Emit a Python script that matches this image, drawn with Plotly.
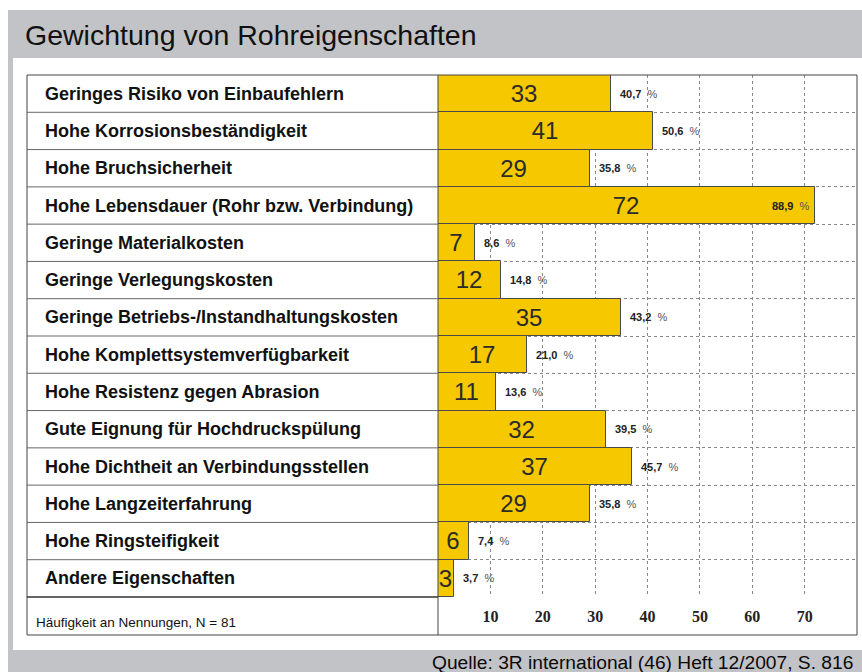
import plotly.graph_objects as go

categories = [
    "Geringes Risiko von Einbaufehlern",
    "Hohe Korrosionsbeständigkeit",
    "Hohe Bruchsicherheit",
    "Hohe Lebensdauer (Rohr bzw. Verbindung)",
    "Geringe Materialkosten",
    "Geringe Verlegungskosten",
    "Geringe Betriebs-/Instandhaltungskosten",
    "Hohe Komplettsystemverfügbarkeit",
    "Hohe Resistenz gegen Abrasion",
    "Gute Eignung für Hochdruckspülung",
    "Hohe Dichtheit an Verbindungsstellen",
    "Hohe Langzeiterfahrung",
    "Hohe Ringsteifigkeit",
    "Andere Eigenschaften",
]
counts = [33, 41, 29, 72, 7, 12, 35, 17, 11, 32, 37, 29, 6, 3]
percents = ["40,7", "50,6", "35,8", "88,9", "8,6", "14,8", "43,2", "21,0",
            "13,6", "39,5", "45,7", "35,8", "7,4", "3,7"]
x_ticks = [10, 20, 30, 40, 50, 60, 70]

W, H = 862, 672
def px(x): return x / W
def py(y): return 1 - y / H

TOP, ROWS_BOTTOM, TABLE_BOTTOM = 75, 597, 635
LEFT, SPLIT, RIGHT = 27, 438, 857
n = len(categories)
ypos = list(range(n))

fig = go.Figure()
fig.add_trace(go.Bar(
    x=counts, y=ypos, orientation="h", width=1,
    marker=dict(color="#f5c800", line=dict(color="#4a4a4a", width=1)),
    text=[str(c) for c in counts], textposition="inside",
    insidetextanchor="middle", textangle=0, constraintext="none",
    textfont=dict(family="Liberation Sans, Arial", size=24, color="#2b2b2b"),
    hoverinfo="skip", cliponaxis=False,
))

annotations = []
# percentage labels
for i, (c, p) in enumerate(zip(counts, percents)):
    inside = c > 60
    annotations.append(dict(
        x=c, y=i, xref="x", yref="y",
        text=f"<b>{p}</b>&nbsp;&nbsp;<span style='color:#555'>%</span>",
        showarrow=False, xanchor="right" if inside else "left",
        xshift=-3 if inside else 7,
        font=dict(family="Liberation Sans, Arial", size=11, color="#222"),
    ))
# category labels in the left column
for i, cat in enumerate(categories):
    annotations.append(dict(
        x=px(43), y=i, xref="paper", yref="y", text=f"<b>{cat}</b>",
        showarrow=False, xanchor="left", yanchor="middle",
        font=dict(family="Liberation Sans, Arial", size=18, color="#111"),
    ))
annotations += [
    dict(x=px(23), y=py(35), xref="paper", yref="paper",
         text="Gewichtung von Rohreigenschaften", showarrow=False,
         xanchor="left", yanchor="middle",
         font=dict(family="Liberation Sans, Arial", size=28.5, color="#111")),
    dict(x=px(34), y=py(622), xref="paper", yref="paper",
         text="Häufigkeit an Nennungen, N = 81", showarrow=False,
         xanchor="left", yanchor="middle",
         font=dict(family="Liberation Sans, Arial", size=13.5, color="#111")),
    dict(x=px(855), y=py(662), xref="paper", yref="paper",
         text="Quelle: 3R international (46) Heft 12/2007, S. 816", showarrow=False,
         xanchor="right", yanchor="middle",
         font=dict(family="Liberation Sans, Arial", size=19.2, color="#0a0a0a")),
]

shapes = [
    # outer gray frame & white panel
    dict(type="rect", xref="paper", yref="paper", x0=px(8), x1=1, y0=0, y1=py(10),
         fillcolor="#c2c3c7", line=dict(width=0), layer="below"),
    dict(type="rect", xref="paper", yref="paper", x0=px(13), x1=1, y0=py(650), y1=py(58),
         fillcolor="#ffffff", line=dict(width=0), layer="below"),
    # table border
    dict(type="rect", xref="paper", yref="paper", x0=px(LEFT), x1=px(RIGHT),
         y0=py(TABLE_BOTTOM), y1=py(TOP), line=dict(color="#444", width=1)),
    dict(type="line", xref="paper", yref="paper", x0=px(SPLIT), x1=px(SPLIT),
         y0=py(TABLE_BOTTOM), y1=py(TOP), line=dict(color="#444", width=1)),
    dict(type="line", xref="paper", yref="paper", x0=px(LEFT), x1=px(SPLIT),
         y0=py(ROWS_BOTTOM), y1=py(ROWS_BOTTOM), line=dict(color="#333", width=1.5)),
]
for i in range(n - 1):
    shapes.append(dict(type="line", xref="paper", yref="y", x0=px(LEFT), x1=px(SPLIT),
                       y0=i + 0.5, y1=i + 0.5, line=dict(color="#666", width=1)))

fig.update_layout(
    width=W, height=H, margin=dict(l=0, r=0, t=0, b=0),
    paper_bgcolor="#ffffff", plot_bgcolor="rgba(0,0,0,0)",
    showlegend=False, bargap=0,
    xaxis=dict(domain=[px(SPLIT), px(RIGHT)], range=[0, 80], tickvals=x_ticks,
               showgrid=True, gridcolor="#888", griddash="dot", gridwidth=1,
               zeroline=False, showline=False, ticks="", ticklabelstandoff=8,
               tickfont=dict(family="Liberation Serif, Times New Roman", size=16,
                             color="#222", weight="bold")),
    yaxis=dict(domain=[py(ROWS_BOTTOM), py(TOP)], range=[n - 0.5, -0.5],
               tickvals=[i + 0.5 for i in range(n)], showticklabels=False,
               showgrid=True, gridcolor="#888", griddash="dot", gridwidth=1,
               zeroline=False, showline=False),
    annotations=annotations, shapes=shapes,
)
fig.write_html("out.html", config={"displayModeBar": False},
               post_script="document.body.style.margin='0';document.body.style.overflow='hidden';")
